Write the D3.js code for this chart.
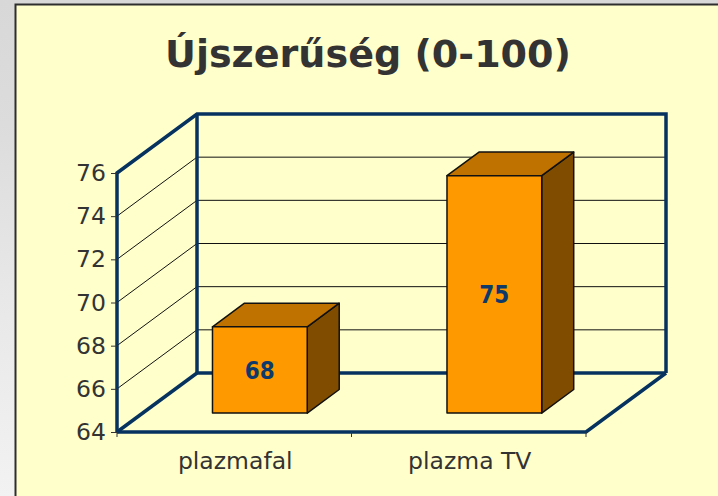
<!DOCTYPE html>
<html>
<head>
<meta charset="utf-8">
<script src="https://cdn.jsdelivr.net/npm/d3@7"></script>
<style>
  html, body { margin: 0; padding: 0; }
  body { width: 718px; height: 496px; overflow: hidden; }
</style>
</head>
<body>
<div id="chart"></div>
<script>
const titleText = 'Újszerűség (0-100)';
const categories = ['plazmafal', 'plazma TV'];
const values = [68, 75];
const tickValues = [64, 66, 68, 70, 72, 74, 76];

const width = 718, height = 496;
const wallColor = '#06325f', yellow = '#ffffcc';
// depth of the 3d box in screen px
const DX = 80, DY = 59;

const svg = d3.select('#chart').append('svg')
    .attr('width', width)
    .attr('height', height);

// grey page background
const defs = svg.append('defs');
const grad = defs.append('linearGradient').attr('id', 'bg').attr('x1', 0).attr('y1', 0).attr('x2', 0).attr('y2', 1);
grad.append('stop').attr('offset', '0%').attr('stop-color', '#d8d8d8');
grad.append('stop').attr('offset', '25%').attr('stop-color', '#dcdcdc');
grad.append('stop').attr('offset', '60%').attr('stop-color', '#e8e8e8');
grad.append('stop').attr('offset', '100%').attr('stop-color', '#f2f2f2');
svg.append('rect').attr('width', width).attr('height', height).attr('fill', 'url(#bg)');

// yellow slide panel
svg.append('rect')
    .attr('x', 15).attr('y', 4)
    .attr('width', width).attr('height', height)
    .attr('fill', yellow);
svg.append('path')
    .attr('d', 'M15.5,' + height + 'V4.5H' + width)
    .attr('fill', 'none')
    .attr('stroke', '#2e2e2e')
    .attr('stroke-width', 2);

svg.append('text')
    .attr('x', 368)
    .attr('y', 67)
    .attr('text-anchor', 'middle')
    .attr('font-family', 'DejaVu Sans, Verdana, sans-serif')
    .attr('font-weight', 'bold')
    .attr('font-size', 37)
    .attr('textLength', 406)
    .attr('lengthAdjust', 'spacingAndGlyphs')
    .attr('fill', '#333333')
    .text(titleText);

const y = d3.scaleLinear().domain([64, 76]).range([432, 173]);
const x = d3.scaleBand().domain(categories).range([117, 586]).paddingInner(0).paddingOuter(0);

function pt(px, v, d) {
    return [px + d * DX, y(v) - d * DY];
}
const line = d3.line();

const g = svg.append('g');

// grid lines on side wall and back wall
const inner = tickValues.slice(1, -1);
g.selectAll('.grid-side')
    .data(inner).enter().append('path')
    .attr('d', v => line([pt(x.range()[0], v, 0), pt(x.range()[0], v, 1)]))
    .attr('stroke', '#111').attr('stroke-width', 1).attr('fill', 'none');
g.selectAll('.grid-back')
    .data(inner).enter().append('path')
    .attr('d', v => line([pt(x.range()[0], v, 1), pt(x.range()[1], v, 1)]))
    .attr('stroke', '#111').attr('stroke-width', 1).attr('fill', 'none');

// walls and floor outlines
const x0 = x.range()[0], x1 = x.range()[1];
const vmin = y.domain()[0], vmax = y.domain()[1];
const wallLines = [
    [pt(x0, vmin, 0), pt(x0, vmax, 0), pt(x0, vmax, 1), pt(x1, vmax, 1), pt(x1, vmin, 1)],
    [pt(x0, vmax, 1), pt(x0, vmin, 1)],
    [pt(x0, vmin, 1), pt(x1, vmin, 1)],
    [pt(x0, vmin, 0), pt(x1, vmin, 0), pt(x1, vmin, 1)],
    [pt(x0, vmin, 0), pt(x0, vmin, 1)]
];
g.selectAll('.wall')
    .data(wallLines).enter().append('path')
    .attr('d', d => line(d))
    .attr('fill', 'none')
    .attr('stroke', wallColor)
    .attr('stroke-width', 3.5)
    .attr('stroke-linejoin', 'miter');

// left axis
const yAxis = svg.append('g')
    .attr('transform', 'translate(' + x0 + ',0)')
    .call(d3.axisLeft(y).tickValues(tickValues).tickSize(6).tickPadding(5).tickFormat(d3.format('d')));
yAxis.select('.domain').remove();
yAxis.selectAll('line').attr('stroke', '#333');
yAxis.selectAll('text')
    .attr('font-family', 'DejaVu Sans, Verdana, sans-serif')
    .attr('font-size', 23.5)
    .attr('fill', '#333');

// bottom ticks on category boundaries
const boundaries = [x0].concat(categories.map(c => x(c) + x.bandwidth()));
svg.selectAll('.xtick')
    .data(boundaries).enter().append('line')
    .attr('x1', d => d).attr('x2', d => d)
    .attr('y1', y(vmin)).attr('y2', y(vmin) + 5)
    .attr('stroke', '#333');
svg.selectAll('.xlabel')
    .data(categories).enter().append('text')
    .attr('x', d => x(d) + x.bandwidth() / 2 + 1)
    .attr('y', 469)
    .attr('text-anchor', 'middle')
    .attr('font-family', 'DejaVu Sans, Verdana, sans-serif')
    .attr('font-size', 23.5)
    .attr('fill', '#333')
    .text(d => d);

// 3d bars
const barFrac = 0.404, d0 = 0.32, d1 = 0.72;
const bars = svg.selectAll('.bar')
    .data(categories.map((c, i) => ({ cat: c, value: values[i] })))
    .enter().append('g');

function face(d, which) {
    const bw = x.bandwidth() * barFrac;
    const l = x(d.cat) + (x.bandwidth() - bw) / 2, r = l + bw;
    if (which === 'front') return [pt(l, vmin, d0), pt(l, d.value, d0), pt(r, d.value, d0), pt(r, vmin, d0)];
    if (which === 'top') return [pt(l, d.value, d0), pt(l, d.value, d1), pt(r, d.value, d1), pt(r, d.value, d0)];
    return [pt(r, vmin, d0), pt(r, d.value, d0), pt(r, d.value, d1), pt(r, vmin, d1)];
}
[['side', '#7f4c00'], ['top', '#bf7200'], ['front', '#ff9900']].forEach(([name, fill]) => {
    bars.append('path')
        .attr('d', d => line(face(d, name)) + 'Z')
        .attr('fill', fill)
        .attr('stroke', '#111')
        .attr('stroke-width', 1.5)
        .attr('stroke-linejoin', 'round');
});
bars.append('text')
    .attr('x', d => { const f = face(d, 'front'); return (f[0][0] + f[2][0]) / 2; })
    .attr('y', d => { const f = face(d, 'front'); return (f[0][1] + f[1][1]) / 2; })
    .attr('dy', '0.36em')
    .attr('text-anchor', 'middle')
    .attr('font-family', 'DejaVu Sans, Verdana, sans-serif')
    .attr('font-weight', 'bold')
    .attr('font-size', 25)
    .attr('textLength', 30)
    .attr('lengthAdjust', 'spacingAndGlyphs')
    .attr('fill', '#0e3a6b')
    .text(d => d.value);
</script>
</body>
</html>
